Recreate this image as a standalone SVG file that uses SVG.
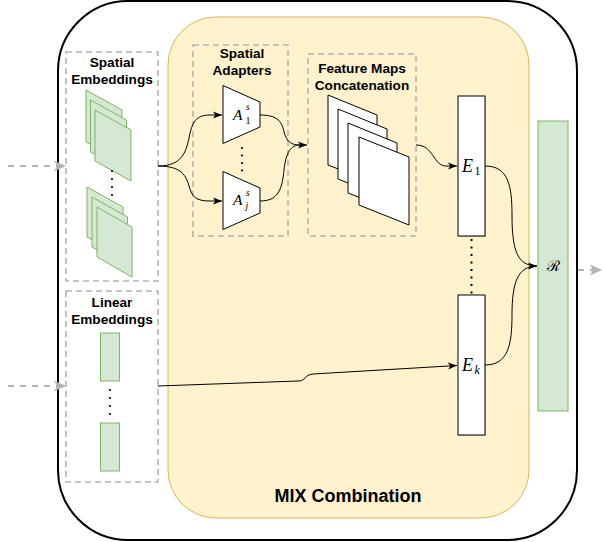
<svg xmlns="http://www.w3.org/2000/svg" width="603" height="542" viewBox="0 0 603 542">
<style>
.lbl{font-family:"Liberation Sans",Arial,sans-serif;font-weight:bold;font-size:13.6px;fill:#000;text-anchor:middle}
.big{font-family:"Liberation Sans",Arial,sans-serif;font-weight:bold;font-size:18px;fill:#000;text-anchor:middle}
.math{font-family:"Liberation Serif","DejaVu Serif",serif;font-style:italic;fill:#000}
.sub{font-family:"Liberation Serif","DejaVu Serif",serif;fill:#000}
.dash{fill:none;stroke:#B3B3B3;stroke-width:1.6;stroke-dasharray:6 4}
.sheet{fill:#d5e8d4;stroke:#82b366;stroke-width:1}
.wsheet{fill:#fff;stroke:#000;stroke-width:1}
.conn{fill:none;stroke:#000;stroke-width:1}
.gconn{fill:none;stroke:#B3B3B3;stroke-width:2;stroke-dasharray:6 6}
.dot{fill:#000}
</style>
<defs>
<marker id="ah" markerWidth="10" markerHeight="10" refX="9" refY="5" orient="auto" markerUnits="userSpaceOnUse">
<path d="M0,1.5 L9,5 L0,8.5 L2.2,5 Z" fill="#000"/>
</marker>
<marker id="gah" markerWidth="14" markerHeight="14" refX="12" refY="7" orient="auto" markerUnits="userSpaceOnUse">
<path d="M0,1.5 L12,7 L0,12.5 L3,7 Z" fill="#B3B3B3"/>
</marker>
</defs>

<g id="outer">
<rect x="58" y="1" width="519" height="539" rx="70" ry="70" fill="#fff" stroke="#000" stroke-width="2"/>
</g>

<g id="mix">
<rect x="168" y="17" width="361" height="501" rx="48" ry="48" fill="#fff2cc" stroke="#d6b656" stroke-width="1"/>
<text class="big" x="348" y="502">MIX Combination</text>
</g>

<g id="spatial-embeddings">
<rect class="dash" x="66" y="52" width="92" height="229"/>
<text class="lbl" x="112" y="67">Spatial</text>
<text class="lbl" x="112" y="84">Embeddings</text>
<path class="sheet" d="M86,90 L122,110 L122,162 L86,142 Z"/>
<path class="sheet" d="M90.5,100 L126.5,120 L126.5,172 L90.5,152 Z"/>
<path class="sheet" d="M95,110 L131,130 L131,181 L95,161 Z"/>
<circle class="dot" cx="112" cy="171" r="1.1"/>
<circle class="dot" cx="112" cy="179" r="1.1"/>
<circle class="dot" cx="112" cy="187" r="1.1"/>
<circle class="dot" cx="112" cy="195" r="1.1"/>
<path class="sheet" d="M87,187 L123,207 L123,257 L87,237 Z"/>
<path class="sheet" d="M92,197 L127.5,217 L127.5,267 L92,247 Z"/>
<path class="sheet" d="M97,207 L132,227 L132,277 L97,257 Z"/>
</g>

<g id="linear-embeddings">
<rect class="dash" x="66" y="291" width="92" height="191"/>
<text class="lbl" x="112" y="307">Linear</text>
<text class="lbl" x="112" y="324">Embeddings</text>
<rect class="sheet" x="100.5" y="333" width="19" height="48"/>
<circle class="dot" cx="110" cy="390" r="1.1"/>
<circle class="dot" cx="110" cy="398" r="1.1"/>
<circle class="dot" cx="110" cy="406" r="1.1"/>
<circle class="dot" cx="110" cy="414" r="1.1"/>
<rect class="sheet" x="100.5" y="423" width="19" height="48"/>
</g>

<g id="spatial-adapters">
<rect class="dash" x="193" y="45" width="95" height="191"/>
<text class="lbl" x="242" y="58">Spatial</text>
<text class="lbl" x="242" y="75">Adapters</text>
<path d="M223,85.5 L260,102 L260,127 L223,143.5 Z" fill="#fff" stroke="#000" stroke-width="1"/>
<text class="math" x="233" y="120" font-size="15.5">A</text>
<text class="math" x="246" y="110" font-size="9.5">s</text>
<text class="sub" x="245.5" y="124" font-size="10">1</text>
<circle class="dot" cx="242" cy="148" r="1.1"/>
<circle class="dot" cx="242" cy="155.5" r="1.1"/>
<circle class="dot" cx="242" cy="163" r="1.1"/>
<circle class="dot" cx="242" cy="170.5" r="1.1"/>
<path d="M223,171.5 L260,188 L260,213 L223,229.5 Z" fill="#fff" stroke="#000" stroke-width="1"/>
<text class="math" x="233" y="205" font-size="15.5">A</text>
<text class="math" x="246" y="196" font-size="9.5">s</text>
<text class="math" x="245.5" y="209" font-size="10">j</text>
</g>

<g id="feature-maps">
<rect class="dash" x="308" y="54" width="108" height="182"/>
<text class="lbl" x="362" y="73">Feature Maps</text>
<text class="lbl" x="362" y="90">Concatenation</text>
<path class="wsheet" d="M328,95 L377,115 L377,184 L328,165 Z"/>
<path class="wsheet" d="M338,109 L387,129 L387,198 L338,179 Z"/>
<path class="wsheet" d="M348,123 L397,143 L397,212 L348,193 Z"/>
<path class="wsheet" d="M359,137 L409,157 L409,225 L359,205 Z"/>
</g>

<g id="E1">
<rect x="459" y="97" width="27" height="140" fill="#999" opacity="0.5"/>
<rect x="458" y="96" width="27" height="140" fill="#fff" stroke="#000" stroke-width="1"/>
<text class="math" x="462" y="172" font-size="18">E</text>
<text class="sub" x="474.5" y="175" font-size="12">1</text>
</g>

<g id="Ek">
<rect x="459" y="296" width="27" height="140" fill="#999" opacity="0.5"/>
<rect x="458" y="295" width="27" height="140" fill="#fff" stroke="#000" stroke-width="1"/>
<text class="math" x="462" y="371" font-size="18">E</text>
<text class="math" x="474.5" y="374" font-size="12">k</text>
</g>

<g id="R">
<rect x="538" y="121" width="30" height="290" fill="#d5e8d4" stroke="#82b366" stroke-width="1"/>
<text class="math" x="553" y="271" font-size="15" text-anchor="middle" style="font-family:'DejaVu Serif','Liberation Serif',serif;font-style:normal">ℛ</text>
</g>

<g id="connectors">
<line class="gconn" x1="8" y1="166" x2="66" y2="166" marker-end="url(#gah)"/>
<line class="gconn" x1="8" y1="386" x2="66" y2="386" marker-end="url(#gah)"/>
<line class="gconn" x1="578" y1="270" x2="602" y2="270" marker-end="url(#gah)"/>
<path class="conn" d="M158,166 C182,166 186,152 189,138 C192,122 196,115 210,115 L222,115" marker-end="url(#ah)"/>
<path class="conn" d="M158,166 C182,166 186,176 189,186 C192,197 196,201 210,201 L222,201" marker-end="url(#ah)"/>
<path class="conn" d="M260,115 C278,115 282,122 284,132 C287,142 291,145 300,145 L307,145" marker-end="url(#ah)"/>
<path class="conn" d="M260,201 C278,201 282,190 284,170 C286,152 291,145 300,145"/>
<path class="conn" d="M416,145 C434,145 433,166 446,166 L457,166" marker-end="url(#ah)"/>
<path class="conn" d="M485,166 C508,166 512,185 512,215 C512,252 518,266 537,266" marker-end="url(#ah)"/>
<path class="conn" d="M485,365 C508,365 512,345 512,315 C512,282 518,266 537,266"/>
<path class="conn" d="M158,386 L298,381 C306,381 304,375 313,374 L457,365.5" marker-end="url(#ah)"/>
<line x1="471.5" y1="239" x2="471.5" y2="295" stroke="#000" stroke-width="2" stroke-dasharray="2 5.5"/>
</g>
</svg>
